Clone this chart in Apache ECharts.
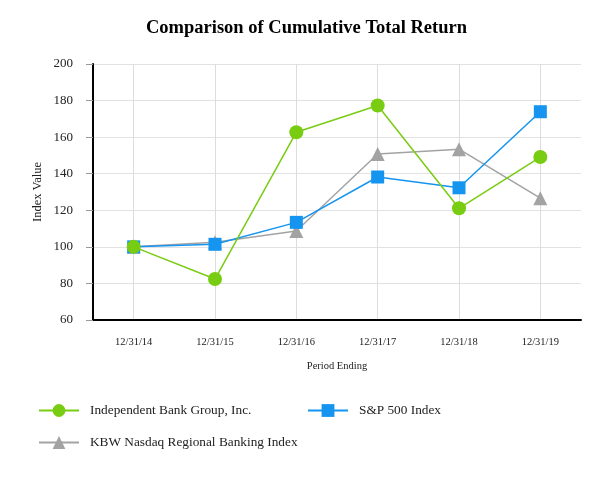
<!DOCTYPE html>
<html><head><meta charset="utf-8">
<script src="https://cdn.jsdelivr.net/npm/echarts@6/dist/echarts.min.js"></script>
<style>html,body{margin:0;padding:0;background:#fff}#c{width:613px;height:480px}</style>
</head><body><div id="c"></div>
<script>
const categories = ['12/31/14','12/31/15','12/31/16','12/31/17','12/31/18','12/31/19'];
const ibtx = [100, 82.4, 162.7, 177.3, 121.1, 149.1];
const sp500 = [100, 101.4, 113.4, 138.2, 132.3, 173.9];
const kbw = [100, 102.5, 108.7, 150.8, 153.4, 126.6];
const yTicks = [60, 80, 100, 120, 140, 160, 180, 200];

const F = '"Liberation Serif","Times New Roman",serif';
const chart = echarts.init(document.getElementById('c'));
const legendBase = {orient:'horizontal', itemWidth:40, itemHeight:16, itemGap:10, padding:0,
  textStyle:{fontFamily:F, fontSize:13.3, color:'#222', padding:[0,0,0,6]}};
chart.setOption({
  animation:false,
  title:{text:'Comparison of Cumulative Total Return', left:'center', top:14,
    textStyle:{fontFamily:F, fontSize:18.5, fontWeight:'bold', color:'#000'}},
  grid:{left:93, right:32, top:64, bottom:160},
  legend:[
    Object.assign({}, legendBase, {left:38, top:404, data:['Independent Bank Group, Inc.']}),
    Object.assign({}, legendBase, {left:307, top:404, data:['S&P 500 Index']}),
    Object.assign({}, legendBase, {left:38, top:436, data:['KBW Nasdaq Regional Banking Index']})
  ],
  xAxis:{type:'category', data:categories, boundaryGap:true,
    name:'Period Ending', nameLocation:'middle', nameGap:41,
    nameTextStyle:{fontFamily:F, fontSize:10.5, color:'#222'},
    axisLine:{lineStyle:{color:'#000', width:2}},
    axisTick:{alignWithLabel:true, length:5, lineStyle:{color:'#555'}},
    axisLabel:{fontFamily:F, fontSize:10.5, color:'#222', margin:17},
    splitLine:{show:false}},
  yAxis:{type:'value', min:yTicks[0], max:yTicks[yTicks.length-1], interval:20,
    name:'Index Value', nameLocation:'middle', nameGap:49, nameRotate:90, nameMoveOverlap:false,
    nameTextStyle:{fontFamily:F, fontSize:12.5, color:'#222'},
    axisLine:{show:true, lineStyle:{color:'#000', width:2}},
    axisTick:{show:true, length:7, lineStyle:{color:'#999'}},
    axisLabel:{fontFamily:F, fontSize:13, color:'#222', margin:20},
    splitLine:{lineStyle:{color:'#e2e2e2', width:1}}},
  series:[
    {type:'line', name:'_grid', data:[], z:0, zlevel:0, silent:true, legendHoverLink:false,
     markLine:{silent:true, z:0, symbol:'none', label:{show:false},
       lineStyle:{color:'#dcdcdc', width:1, type:'solid'},
       data:categories.map(c=>({xAxis:c}))}},
    {type:'line', name:'KBW Nasdaq Regional Banking Index', data:kbw, z:3,
     symbol:'triangle', symbolSize:14, color:'#a3a3a3', lineStyle:{width:1.5, color:'#a3a3a3'}},
    {type:'line', name:'S&P 500 Index', data:sp500, z:4,
     symbol:'rect', symbolSize:13, color:'#1594f0', lineStyle:{width:1.5, color:'#1594f0'}},
    {type:'line', name:'Independent Bank Group, Inc.', data:ibtx, z:5,
     symbol:'circle', symbolSize:14, color:'#78cc12', lineStyle:{width:1.5, color:'#78cc12'}}
  ]
});
</script></body></html>
